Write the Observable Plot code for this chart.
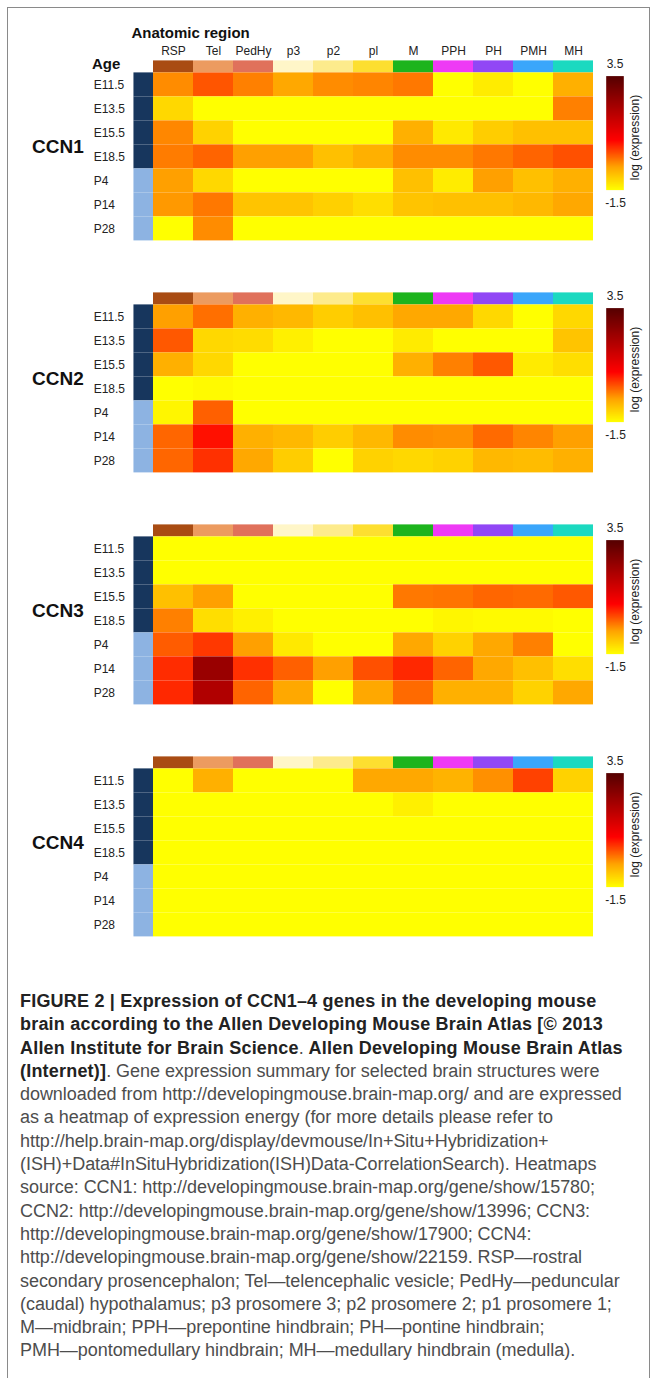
<!DOCTYPE html>
<html>
<head>
<meta charset="utf-8">
<script src="https://cdn.jsdelivr.net/npm/d3@7"></script>
<script src="https://cdn.jsdelivr.net/npm/@observablehq/plot@0.6"></script>
<style>
  html, body { margin: 0; padding: 0; background: #fff; }
  #wrap { position: relative; width: 656px; height: 1378px; overflow: hidden; font-family: "Liberation Sans", Arial, sans-serif; }
  #frame { position: absolute; left: 7px; top: 7px; width: 641px; height: 1400px; border: 1px solid #8a8a8a; pointer-events: none; }
  .abs { position: absolute; }
  #caption { position: absolute; left: 20px; top: 990px; width: 636px; font-size: 18px; line-height: 23.3px; color: #4d4d4d; white-space: nowrap; letter-spacing: -0.05px; }
  #caption b { color: #222; font-weight: bold; letter-spacing: 0.2px; }
</style>
</head>
<body>
<div id="wrap">
  <div id="main" class="abs" style="left:0;top:0"></div>
  <div id="bars"></div>
  <div id="caption"></div>
  <div id="frame"></div>
</div>
<script>
// ---------- data ----------
const genes = ["CCN1", "CCN2", "CCN3", "CCN4"];
const ages = ["E11.5", "E13.5", "E15.5", "E18.5", "P4", "P14", "P28"];
const stages = ["E", "E", "E", "E", "P", "P", "P"];
const regions = ["RSP", "Tel", "PedHy", "p3", "p2", "pl", "M", "PPH", "PH", "PMH", "MH"];
const regionColors = ["#a94c13", "#ec9b60", "#e0715b", "#fff6c8", "#fdeb8c", "#fddf30", "#1db41d", "#ee3af5", "#9147f5", "#3aa6fb", "#1bd9c0"];
const stageColors = { E: "#17365d", P: "#8db3e2" };
const colorTicks = [3.5, -1.5];
const colorLabel = "log (expression)";

// log(expression) per gene: rows = ages, columns = regions
const ccn1 = [
  [-0.32, 0.08, -0.23, -0.53, -0.32, -0.27, -0.17, -1.5, -1.29, -1.5, -0.62],
  [-1.07, -1.5, -1.5, -1.5, -1.5, -1.5, -1.5, -1.5, -1.5, -1.5, -0.23],
  [-0.28, -1.0, -1.5, -1.5, -1.5, -1.5, -0.62, -1.26, -0.94, -0.8, -0.8],
  [-0.2, -0.03, -0.46, -0.46, -0.8, -0.62, -0.32, -0.32, -0.17, -0.03, 0.12],
  [-0.46, -1.07, -1.5, -1.5, -1.5, -1.5, -0.8, -1.29, -0.46, -0.8, -0.62],
  [-0.41, -0.17, -0.84, -0.84, -0.98, -1.13, -0.84, -0.8, -0.8, -0.71, -0.53],
  [-1.5, -0.32, -1.5, -1.5, -1.5, -1.5, -1.5, -1.5, -1.5, -1.5, -1.5]
];
const ccn2 = [
  [-0.46, -0.11, -0.62, -0.71, -0.94, -0.8, -0.53, -0.53, -1.07, -1.5, -1.07],
  [0.06, -1.07, -1.11, -1.33, -1.5, -1.5, -1.28, -1.5, -1.5, -1.5, -0.84],
  [-0.62, -1.07, -1.5, -1.5, -1.5, -1.5, -0.62, -0.23, 0.06, -1.28, -1.13],
  [-1.5, -1.44, -1.5, -1.5, -1.5, -1.5, -1.5, -1.5, -1.5, -1.5, -1.5],
  [-1.4, 0.0, -1.5, -1.5, -1.5, -1.5, -1.5, -1.5, -1.5, -1.5, -1.5],
  [-0.04, 0.58, -0.62, -0.71, -0.94, -0.71, -0.32, -0.35, -0.07, -0.27, -0.46],
  [-0.04, 0.35, -0.53, -0.94, -1.5, -1.0, -1.07, -1.0, -0.71, -0.76, -0.62]
];
const ccn3 = [
  [-1.5, -1.5, -1.5, -1.5, -1.5, -1.5, -1.5, -1.5, -1.5, -1.5, -1.5],
  [-1.5, -1.5, -1.5, -1.5, -1.5, -1.5, -1.5, -1.5, -1.5, -1.5, -1.5],
  [-0.8, -0.46, -1.5, -1.5, -1.5, -1.5, -0.17, -0.14, -0.04, -0.07, 0.06],
  [-0.23, -1.13, -1.33, -1.5, -1.5, -1.5, -1.5, -1.4, -1.44, -1.44, -1.5],
  [0.03, 0.29, -0.46, -1.26, -1.5, -1.5, -0.53, -1.0, -0.53, -0.23, -1.5],
  [0.38, 2.38, 0.35, 0.0, -0.46, 0.12, 0.41, -0.03, -0.53, -0.8, -1.13],
  [0.41, 2.0, -0.03, -0.53, -1.5, -0.53, -0.07, -0.62, -0.62, -1.0, -0.53]
];
const ccn4 = [
  [-1.5, -0.62, -1.5, -1.5, -1.5, -0.53, -0.53, -0.66, -0.35, 0.23, -1.0],
  [-1.5, -1.5, -1.5, -1.5, -1.5, -1.5, -1.33, -1.5, -1.5, -1.5, -1.5],
  [-1.5, -1.5, -1.5, -1.5, -1.5, -1.5, -1.5, -1.5, -1.5, -1.5, -1.5],
  [-1.5, -1.5, -1.5, -1.5, -1.5, -1.5, -1.5, -1.5, -1.5, -1.5, -1.5],
  [-1.5, -1.5, -1.5, -1.5, -1.5, -1.5, -1.5, -1.5, -1.5, -1.5, -1.5],
  [-1.5, -1.5, -1.5, -1.5, -1.5, -1.5, -1.5, -1.5, -1.5, -1.5, -1.5],
  [-1.5, -1.5, -1.5, -1.5, -1.5, -1.5, -1.5, -1.5, -1.5, -1.5, -1.5]
];
const geneValues = [ccn1, ccn2, ccn3, ccn4];

// ---------- build table ----------
const cells = [];
genes.forEach((g, gi) => ages.forEach((a, ai) => regions.forEach((r, ri) => {
  cells.push({ gene: g, age: a, region: r, value: geneValues[gi][ai][ri] });
})));
const ageRows = ages.map((a, i) => ({ age: a, stage: stages[i] }));

const colorScale = {
  type: "linear",
  domain: [-1.5, -0.5, 0.7, 3.5],
  range: ["#ffff00", "#ffa500", "#ff0000", "#550000"],
  interpolate: "rgb",
  clamp: true
};

const W = 656;
const marginLeft = 110.3, marginRight = 60.3, marginTop = 46.6;
const rowH = 24.4, panelStep = 232.2;
const bandH = rowH * 8;
const gap = panelStep - bandH;
const rangeH = bandH * 4 + gap * 3;
const marginBottom = 20;
const font = "Liberation Sans, Arial, sans-serif";

const STAGE = "_stage", ANNO = "_anno";

const marks = [];
// annotation colour strip (repeated in each panel)
regions.forEach((r, i) => {
  marks.push(Plot.cell([r], { x: d => d, y: () => ANNO, fill: regionColors[i], insetTop: rowH - 12.4 }));
});
// developmental stage strip
["E", "P"].forEach(s => {
  marks.push(Plot.cell(ageRows.filter(d => d.stage === s), { x: () => STAGE, y: "age", fill: stageColors[s], insetLeft: 20.45 }));
});
// heatmap
marks.push(Plot.cell(cells, { x: "region", y: "age", fill: "value" }));
// age labels
marks.push(Plot.text(ages, { x: () => STAGE, y: d => d, text: d => d, textAnchor: "start", dx: -39.8, fontSize: 12, fill: "#222" }));
// gene labels
marks.push(Plot.text(cells, { filter: d => d.age === "E18.5" && d.region === "RSP", x: () => STAGE, y: "age", text: "gene", textAnchor: "end", dx: -49.8, dy: -10.4, fontSize: 19, fontWeight: "bold", fill: "#111" }));
// column headers (first panel only)
marks.push(Plot.text(cells, { filter: d => d.gene === genes[0] && d.age === ages[0], x: "region", y: () => ANNO, text: "region", dy: -9.8, fontSize: 12, fill: "#222" }));
marks.push(Plot.text(cells, { filter: d => d.gene === genes[0] && d.age === ages[0] && d.region === regions[0], x: "region", y: () => ANNO, text: () => "Anatomic region", textAnchor: "start", dx: -42, dy: -27.5, fontSize: 15, fontWeight: "bold", fill: "#111" }));
marks.push(Plot.text(cells, { filter: d => d.gene === genes[0] && d.age === ages[0] && d.region === regions[0], x: () => STAGE, y: () => ANNO, text: () => "Age", textAnchor: "start", dx: -41.5, dy: 3.2, fontSize: 15, fontWeight: "bold", fill: "#111" }));

const main = Plot.plot({
  width: W,
  height: marginTop + rangeH + marginBottom,
  marginLeft, marginRight, marginTop, marginBottom,
  style: { fontFamily: font, background: "transparent" },
  facet: { data: cells, y: "gene", marginTop, marginBottom, marginLeft, marginRight },
  fy: { domain: genes, paddingInner: gap / panelStep, paddingOuter: 0, axis: null, label: null },
  x: { domain: [STAGE, ...regions], padding: 0, axis: null },
  y: { domain: [ANNO, ...ages], padding: 0, axis: null },
  color: colorScale,
  marks
});
document.getElementById("main").appendChild(main);

// ---------- colour bars ----------
const barsDiv = document.getElementById("bars");
genes.forEach((g, gi) => {
  const heatTop = marginTop + rowH + gi * panelStep;
  const bw = 60, bh = 170, left = 596, top = heatTop - 20;
  const barTop = heatTop + 4.6 - top, barBottom = heatTop + 118.6 - top;
  const bm = [];
  if (Plot.raster) {
    bm.push(Plot.raster({ x1: 0, x2: 1, y1: colorTicks[1], y2: colorTicks[0], fill: (x, y) => y, width: 1, height: 200, imageRendering: "auto" }));
  } else {
    const steps = d3.ticks(colorTicks[1], colorTicks[0], 200);
    bm.push(Plot.rectY(steps.slice(0, -1), { x1: 0, x2: 1, y1: d => d, y2: (d, i) => steps[i + 1], fill: d => d }));
  }
  bm.push(Plot.text([colorTicks[0]], { x: 0, y: d => d, text: d => String(d), textAnchor: "start", dy: -11.6, dx: 0.5, fontSize: 12, fill: "#222" }));
  bm.push(Plot.text([colorTicks[1]], { x: 0, y: d => d, text: d => String(d), textAnchor: "start", dy: 13.4, dx: -1, fontSize: 12, fill: "#222" }));
  bm.push(Plot.text([colorLabel], { x: () => 1, y: () => (colorTicks[0] + colorTicks[1]) / 2, text: d => d, rotate: -90, dx: 11.7, dy: 4.4, fontSize: 12, fill: "#222" }));
  const bar = Plot.plot({
    width: bw, height: bh,
    marginLeft: 9.7, marginRight: bw - 27.3, marginTop: barTop, marginBottom: bh - barBottom,
    style: { fontFamily: font, background: "transparent", overflow: "visible" },
    x: { domain: [0, 1], axis: null },
    y: { domain: [colorTicks[1], colorTicks[0]], axis: null },
    color: colorScale,
    marks: bm
  });
  const holder = document.createElement("div");
  holder.className = "abs";
  holder.style.left = left + "px";
  holder.style.top = top + "px";
  holder.appendChild(bar);
  barsDiv.appendChild(holder);
});

// ---------- caption ----------
const captionLines = [
  "<b>FIGURE 2 | Expression of CCN1–4 genes in the developing mouse</b>",
  "<b>brain according to the Allen Developing Mouse Brain Atlas [© 2013</b>",
  "<b>Allen Institute for Brain Science</b>. <b>Allen Developing Mouse Brain Atlas</b>",
  "<b>(Internet)]</b>. Gene expression summary for selected brain structures were",
  "downloaded from http://developingmouse.brain-map.org/ and are expressed",
  "as a heatmap of expression energy (for more details please refer to",
  "http://help.brain-map.org/display/devmouse/In+Situ+Hybridization+",
  "(ISH)+Data#InSituHybridization(ISH)Data-CorrelationSearch). Heatmaps",
  "source: CCN1: http://developingmouse.brain-map.org/gene/show/15780;",
  "CCN2: http://developingmouse.brain-map.org/gene/show/13996; CCN3:",
  "http://developingmouse.brain-map.org/gene/show/17900; CCN4:",
  "http://developingmouse.brain-map.org/gene/show/22159. RSP—rostral",
  "secondary prosencephalon; Tel—telencephalic vesicle; PedHy—peduncular",
  "(caudal) hypothalamus; p3 prosomere 3; p2 prosomere 2; p1 prosomere 1;",
  "M—midbrain; PPH—prepontine hindbrain; PH—pontine hindbrain;",
  "PMH—pontomedullary hindbrain; MH—medullary hindbrain (medulla)."
];
document.getElementById("caption").innerHTML = captionLines.map(l => `<div>${l}</div>`).join("");
</script>
</body>
</html>
